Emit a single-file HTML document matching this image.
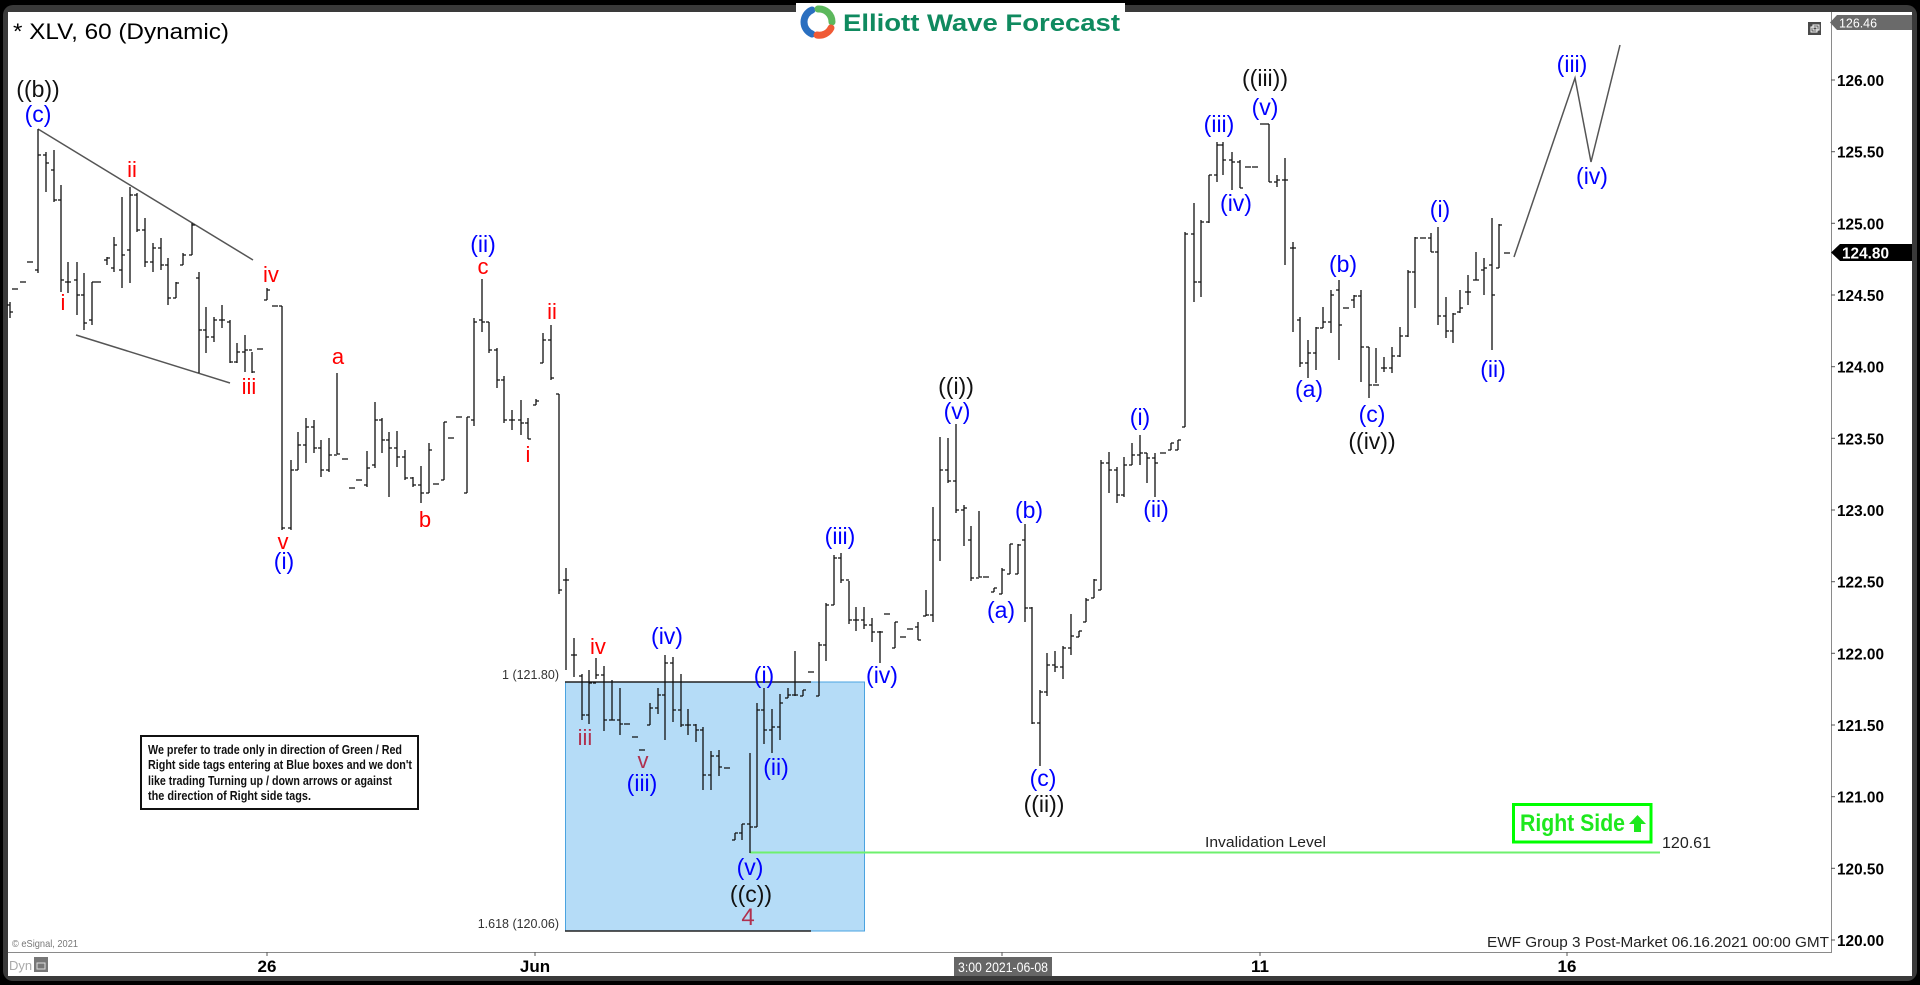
<!DOCTYPE html>
<html>
<head>
<meta charset="utf-8">
<style>
html,body{margin:0;padding:0;background:#000;}
svg{display:block;}
text{font-family:"Liberation Sans",Arial,sans-serif;}
</style>
</head>
<body>
<svg width="1920" height="985" viewBox="0 0 1920 985" xmlns="http://www.w3.org/2000/svg">
<!-- frame -->
<rect x="0" y="0" width="1920" height="985" fill="#000"/>
<rect x="3" y="5" width="1914" height="976" rx="10" fill="#3a3a3a"/>
<rect x="8" y="12" width="1904" height="964" fill="#fff"/>

<!-- logo -->
<rect x="796" y="3" width="329" height="38" fill="#fff"/>
<g fill="none" stroke-width="7" stroke-linecap="round">
<path d="M812 34 A13 13 0 0 1 812 10" stroke="#2a6fc0"/>
<path d="M818 9 A13 13 0 0 1 832 22" stroke="#5cb85c"/>
<path d="M831 28 A13 13 0 0 1 817 35" stroke="#f05a35"/>
</g>
<text x="843" y="31" font-size="24" font-weight="bold" fill="#0f8a5f" textLength="277" lengthAdjust="spacingAndGlyphs">Elliott Wave Forecast</text>

<!-- title -->
<text x="13" y="39" font-size="22" fill="#000" textLength="216" lengthAdjust="spacingAndGlyphs">* XLV, 60 (Dynamic)</text>

<!-- small icon top right -->
<rect x="1808" y="22" width="13" height="13" fill="#4a4a4a"/>
<rect x="1811" y="27" width="6" height="5" fill="none" stroke="#fff" stroke-width="1"/>
<rect x="1813" y="25" width="6" height="5" fill="none" stroke="#fff" stroke-width="1"/>

<!-- axes -->
<line x1="1831.5" y1="12" x2="1831.5" y2="953" stroke="#8a8a8a" stroke-width="1"/>
<line x1="8" y1="952.5" x2="1831.5" y2="952.5" stroke="#8a8a8a" stroke-width="1"/>

<!-- blue box -->
<rect x="565.5" y="682" width="299" height="249" fill="#b5dcf7" stroke="#4aa3e0" stroke-width="1"/>
<line x1="565" y1="682" x2="811" y2="682" stroke="#222" stroke-width="1.5"/>
<line x1="565" y1="931" x2="811" y2="931" stroke="#222" stroke-width="1.5"/>
<text x="559" y="679" font-size="12.5" fill="#333" text-anchor="end">1 (121.80)</text>
<text x="559" y="928" font-size="12.5" fill="#333" text-anchor="end">1.618 (120.06)</text>

<!-- trendlines -->
<g stroke="#555" stroke-width="1.5" fill="none">
<line x1="38" y1="129" x2="253" y2="260"/>
<line x1="76" y1="335" x2="230" y2="383"/>
<polyline points="1514,257 1575,78 1591,162 1620,45"/>
</g>

<!-- invalidation line -->
<line x1="750" y1="852.5" x2="1660" y2="852.5" stroke="#6ef06e" stroke-width="2"/>
<text x="1205" y="847" font-size="15" fill="#222" textLength="121" lengthAdjust="spacingAndGlyphs">Invalidation Level</text>
<text x="1662" y="848" font-size="16" fill="#222" textLength="49" lengthAdjust="spacingAndGlyphs">120.61</text>

<!-- Right Side tag -->
<rect x="1513.5" y="804.5" width="137.5" height="37.5" fill="#fff" stroke="#00ff00" stroke-width="3"/>
<text x="1520" y="831" font-size="24" font-weight="bold" fill="#1ee81e" textLength="105" lengthAdjust="spacingAndGlyphs">Right Side</text>
<path d="M1637.5 815 L1646 824 L1641 824 L1641 832 L1634 832 L1634 824 L1629 824 Z" fill="#1ee81e"/>

<!-- OHLC bars -->
<path fill="none" stroke="#111" stroke-width="1.3" d="
M10 302V318M7 305H10M10 312H13
M12 289H18M20 282H26M27 262H33
M38 129V273M35 270H38M38 155H41
M46 152V192M43 155H46M46 163H49
M54 150V202M51 170H54M54 200H57
M61 185V292M58 200H61M61 280H64
M68 262V293M65 282H68M68 282H71
M77 262V315M74 280H77M77 295H80
M84 273V330M81 295H84M84 323H87
M92 282V325M89 320H92M92 282H95
M95 282H101
M107 257V265M104 260H107M107 258H110
M114 237V272M111 268H114M114 245H117
M122 197V288M119 270H122M122 255H125
M130 187V283M127 250H130M130 195H133
M137 193V232M134 195H137M137 230H140
M145 218V267M142 230H145M145 262H148
M153 243V272M150 262H153M153 248H156
M161 238V270M158 248H161M161 265H164
M168 258V305M165 265H168M168 298H171
M176 282V298M173 298H176M176 283H179
M183 253V265M180 265H183M183 255H186
M192 223V255M189 255H192M192 225H195
M199 272V373M196 278H199M199 330H202
M206 307V353M203 330H206M206 337H209
M214 317V342M211 337H214M214 320H217
M222 305V328M219 320H222M222 320H225
M230 320V363M227 322H230M230 362H233
M237 343V363M234 362H237M237 352H240
M245 335V372M242 352H245M245 350H248
M252 352V373M249 350H252M252 372H255
M257 349H263
M267 288V300M264 300H267M267 290H270
M272 306H278
M282 306V530M279 306H282M282 528H285
M291 460V530M288 528H291M291 470H294
M298 432V470M295 470H298M298 445H301
M306 418V463M303 445H306M306 427H309
M314 420V453M311 427H314M314 448H317
M321 440V477M318 448H321M321 470H324
M329 438V472M326 470H329M329 455H332
M337 373V454M334 455H337M337 454H340
M342 459H348M349 488H355M356 480H362
M367 451V487M364 485H367M367 468H370
M375 402V468M372 465H375M375 420H378
M382 418V453M379 420H382M382 440H385
M389 432V497M386 440H389M389 448H392
M397 431V467M394 448H397M397 457H400
M405 450V480M402 457H405M405 478H408
M413 477V487M410 478H413M413 485H416
M421 466V503M418 485H421M421 493H424
M429 443V493M426 493H429M429 450H432
M433 484H439
M444 422V480M441 480H444M444 422H447
M448 438H454M456 417H462
M467 417V493M464 493H467M467 417H470
M474 318V426M471 420H474M474 322H477
M482 279V332M479 320H482M482 322H485
M489 322V353M486 322H489M489 350H492
M497 348V388M494 350H497M497 380H500
M504 376V423M501 380H504M504 420H507
M512 410V430M509 420H512M512 420H515
M521 400V435M518 420H521M521 423H524
M528 418V439M525 423H528M528 439H531
M536 399V405M533 405H536M536 401H539
M543 333V363M540 363H543M543 340H546
M551 325V380M548 340H551M551 378H554
M559 394V594M556 394H559M559 590H562
M566 568V670M563 580H566M566 580H569
M574 638V677M571 655H574M574 655H577
M582 674V720M579 676H582M582 715H585
M589 670V724M586 715H589M589 683H592
M596 658V679M593 683H596M596 675H599
M604 666V731M601 675H604M604 720H607
M612 680V720M609 720H612M612 720H615
M620 688V735M617 720H620M620 724H623
M624 724H630M632 737H638M639 750H645
M650 703V725M647 725H650M650 708H653
M658 688V714M655 708H658M658 695H661
M665 655V740M662 695H665M665 663H668
M673 657V722M670 663H673M673 710H676
M681 674V727M678 710H681M681 725H684
M688 709V735M685 725H688M688 725H691
M696 724V742M693 725H696M696 730H699
M703 727V790M700 730H703M703 775H706
M711 751V790M708 775H711M711 756H714
M719 750V776M716 756H719M719 767H722
M724 768H730
M735 833V840M732 840H735M735 833H738
M742 824V840M739 833H742M742 824H745
M750 753V853M747 824H750M750 827H753
M757 703V827M754 827H757M757 710H760
M764 688V744M761 710H764M764 730H767
M772 709V753M769 730H772M772 727H775
M780 694V740M777 727H780M780 703H783
M788 688V698M785 698H788M788 695H791
M795 651V696M792 695H795M795 695H798
M803 690V696M800 696H803M803 690H806
M808 672H814
M819 642V696M816 696H819M819 645H822
M826 603V661M823 645H826M826 605H829
M834 555V605M831 605H834M834 558H837
M841 553V583M838 558H841M841 580H844
M849 581V624M846 580H849M849 620H852
M856 607V631M853 620H856M856 620H859
M864 607V629M861 620H864M864 625H867
M872 618V642M869 625H872M872 632H875
M880 631V663M877 632H880M880 632H883
M884 614H890
M895 622V648M892 648H895M895 622H898
M900 637H906M907 629H913
M918 622V640M915 627H918M918 640H921
M926 590V616M923 616H926M926 615H929
M933 507V622M930 615H933M933 540H936
M940 437V561M937 540H940M940 470H943
M948 438V483M945 470H948M948 481H951
M956 424V513M953 481H956M956 510H959
M964 505V546M961 510H964M964 508H967
M971 526V581M968 540H971M971 578H974
M979 511V577M976 578H979M979 577H982
M983 577H989
M994 588V592M991 592H994M994 588H997
M1002 568V594M999 594H1002M1002 570H1005
M1010 544V574M1007 574H1010M1010 544H1013
M1018 544V574M1015 574H1018M1018 545H1021
M1025 524V622M1022 540H1025M1025 608H1028
M1032 607V724M1029 608H1032M1032 723H1035
M1040 690V766M1037 723H1040M1040 692H1043
M1047 653V696M1044 692H1047M1047 665H1050
M1055 651V672M1052 665H1055M1055 667H1058
M1063 646V679M1060 667H1063M1063 648H1066
M1071 614V655M1068 648H1071M1071 636H1074
M1079 631V637M1076 637H1079M1079 631H1082
M1086 598V622M1083 622H1086M1086 600H1089
M1094 579V598M1091 598H1094M1094 580H1097
M1101 460V590M1098 590H1101M1101 463H1104
M1109 452V493M1106 463H1109M1109 470H1112
M1117 467V503M1114 470H1117M1117 495H1120
M1124 457V497M1121 495H1124M1124 465H1127
M1132 443V465M1129 465H1132M1132 455H1135
M1140 435V465M1137 455H1140M1140 453H1143
M1147 453V483M1144 453H1147M1147 458H1150
M1155 453V497M1152 458H1155M1155 463H1158
M1160 453H1166
M1171 443V450M1168 450H1171M1171 443H1174
M1178 440V450M1175 450H1178M1178 440H1181
M1185 232V427M1182 427H1185M1185 234H1188
M1194 203V302M1191 234H1194M1194 282H1197
M1201 220V297M1198 282H1201M1201 222H1204
M1209 175V223M1206 222H1209M1209 175H1212
M1217 142V182M1214 175H1217M1217 145H1220
M1223 142V175M1220 145H1223M1223 160H1226
M1232 152V190M1229 160H1232M1232 162H1235
M1240 160V188M1237 162H1240M1240 188H1243
M1245 167H1251M1252 167H1258M1260 124H1266
M1269 124V182M1266 124H1269M1269 182H1272
M1277 175V187M1274 182H1277M1277 180H1280
M1285 158V265M1282 180H1285M1285 180H1288
M1293 242V332M1290 248H1293M1293 248H1296
M1300 317V367M1297 320H1300M1300 363H1303
M1308 340V378M1305 363H1308M1308 353H1311
M1316 327V370M1313 353H1316M1316 328H1319
M1323 307V328M1320 328H1323M1323 322H1326
M1331 290V333M1328 322H1331M1331 295H1334
M1339 280V360M1336 290H1339M1339 325H1342
M1343 308H1349
M1354 295V308M1351 300H1354M1354 296H1357
M1361 290V382M1358 296H1361M1361 347H1364
M1369 347V398M1366 347H1369M1369 385H1372
M1376 348V383M1373 385H1376M1376 385H1379
M1384 357V372M1381 368H1384M1384 368H1387
M1392 347V373M1389 368H1392M1392 356H1395
M1400 327V357M1397 356H1400M1400 336H1403
M1408 270V337M1405 336H1408M1408 272H1411
M1415 237V308M1412 272H1415M1415 238H1418
M1420 238H1426
M1431 233V252M1428 238H1431M1431 252H1434
M1438 227V325M1435 252H1438M1438 316H1441
M1446 297V338M1443 316H1446M1446 331H1449
M1453 313V343M1450 331H1453M1453 314H1456
M1460 290V313M1457 312H1460M1460 308H1463
M1468 275V305M1465 292H1468M1468 292H1471
M1476 252V280M1473 280H1476M1476 280H1479
M1484 258V295M1481 270H1484M1484 268H1487
M1492 218V350M1489 265H1492M1492 295H1495
M1499 224V268M1496 268H1499M1499 225H1502
M1504 253H1510
"/>

<!-- blue labels -->
<g font-size="23" fill="#0000ff" text-anchor="middle">
<text x="38" y="122">(c)</text>
<text x="284" y="569">(i)</text>
<text x="483" y="252">(ii)</text>
<text x="667" y="644">(iv)</text>
<text x="642" y="791">(iii)</text>
<text x="764" y="683">(i)</text>
<text x="776" y="775">(ii)</text>
<text x="750" y="875">(v)</text>
<text x="840" y="544">(iii)</text>
<text x="882" y="683">(iv)</text>
<text x="957" y="419">(v)</text>
<text x="1029" y="518">(b)</text>
<text x="1001" y="618">(a)</text>
<text x="1043" y="786">(c)</text>
<text x="1140" y="425">(i)</text>
<text x="1156" y="517">(ii)</text>
<text x="1219" y="132">(iii)</text>
<text x="1236" y="211">(iv)</text>
<text x="1265" y="115">(v)</text>
<text x="1343" y="272">(b)</text>
<text x="1309" y="397">(a)</text>
<text x="1372" y="422">(c)</text>
<text x="1440" y="217">(i)</text>
<text x="1493" y="377">(ii)</text>
<text x="1572" y="72">(iii)</text>
<text x="1592" y="184">(iv)</text>
</g>

<!-- black labels -->
<g font-size="23" fill="#111" text-anchor="middle">
<text x="38" y="97">((b))</text>
<text x="751" y="902">((c))</text>
<text x="956" y="394">((i))</text>
<text x="1044" y="812">((ii))</text>
<text x="1265" y="86">((iii))</text>
<text x="1372" y="449">((iv))</text>
</g>

<!-- red labels -->
<g font-size="22" fill="#ff0000" text-anchor="middle">
<text x="132" y="177">ii</text>
<text x="63" y="310">i</text>
<text x="271" y="282">iv</text>
<text x="249" y="394">iii</text>
<text x="283" y="549">v</text>
<text x="338" y="364">a</text>
<text x="425" y="527">b</text>
<text x="483" y="274">c</text>
<text x="552" y="319">ii</text>
<text x="528" y="462">i</text>
<text x="598" y="654">iv</text>
</g>
<g font-size="22" fill="#b0304e" text-anchor="middle">
<text x="585" y="745">iii</text>
<text x="643" y="768">v</text>
<text x="748" y="925" font-size="24">4</text>
</g>

<!-- note box -->
<rect x="141" y="736" width="277" height="73" fill="#fff" stroke="#111" stroke-width="2"/>
<g font-size="12.5" font-weight="bold" fill="#111">
<text x="148" y="754" textLength="254" lengthAdjust="spacingAndGlyphs">We prefer to trade only in direction of Green / Red</text>
<text x="148" y="769" textLength="264" lengthAdjust="spacingAndGlyphs">Right side tags entering at Blue boxes and we don't</text>
<text x="148" y="785" textLength="244" lengthAdjust="spacingAndGlyphs">like trading Turning up / down arrows or against</text>
<text x="148" y="800" textLength="163" lengthAdjust="spacingAndGlyphs">the direction of Right side tags.</text>
</g>

<!-- right axis labels -->
<g stroke="#555" stroke-width="1">
<line x1="1831" y1="80" x2="1835" y2="80"/>
<line x1="1831" y1="151.7" x2="1835" y2="151.7"/>
<line x1="1831" y1="223.3" x2="1835" y2="223.3"/>
<line x1="1831" y1="295" x2="1835" y2="295"/>
<line x1="1831" y1="366.7" x2="1835" y2="366.7"/>
<line x1="1831" y1="438.3" x2="1835" y2="438.3"/>
<line x1="1831" y1="510" x2="1835" y2="510"/>
<line x1="1831" y1="581.7" x2="1835" y2="581.7"/>
<line x1="1831" y1="653.3" x2="1835" y2="653.3"/>
<line x1="1831" y1="725" x2="1835" y2="725"/>
<line x1="1831" y1="796.7" x2="1835" y2="796.7"/>
<line x1="1831" y1="868.3" x2="1835" y2="868.3"/>
<line x1="1831" y1="940" x2="1835" y2="940"/>
</g>
<g font-size="16" font-weight="bold" fill="#000">
<text x="1837" y="86" textLength="47" lengthAdjust="spacingAndGlyphs">126.00</text>
<text x="1837" y="157.7" textLength="47" lengthAdjust="spacingAndGlyphs">125.50</text>
<text x="1837" y="229.3" textLength="47" lengthAdjust="spacingAndGlyphs">125.00</text>
<text x="1837" y="301" textLength="47" lengthAdjust="spacingAndGlyphs">124.50</text>
<text x="1837" y="372.7" textLength="47" lengthAdjust="spacingAndGlyphs">124.00</text>
<text x="1837" y="444.3" textLength="47" lengthAdjust="spacingAndGlyphs">123.50</text>
<text x="1837" y="516" textLength="47" lengthAdjust="spacingAndGlyphs">123.00</text>
<text x="1837" y="587.7" textLength="47" lengthAdjust="spacingAndGlyphs">122.50</text>
<text x="1837" y="659.3" textLength="47" lengthAdjust="spacingAndGlyphs">122.00</text>
<text x="1837" y="731" textLength="47" lengthAdjust="spacingAndGlyphs">121.50</text>
<text x="1837" y="802.7" textLength="47" lengthAdjust="spacingAndGlyphs">121.00</text>
<text x="1837" y="874.3" textLength="47" lengthAdjust="spacingAndGlyphs">120.50</text>
<text x="1837" y="946" textLength="47" lengthAdjust="spacingAndGlyphs">120.00</text>
</g>
<!-- top price tag -->
<path d="M1830 22.5 L1837 15 L1912 15 L1912 30 L1837 30 Z" fill="#6a6a6a"/>
<text x="1839" y="27.5" font-size="13" fill="#fff" textLength="38" lengthAdjust="spacingAndGlyphs">126.46</text>
<!-- last price tag -->
<path d="M1831 252.5 L1840 244 L1912 244 L1912 261 L1840 261 Z" fill="#000"/>
<text x="1842" y="258.5" font-size="16" font-weight="bold" fill="#fff" textLength="47" lengthAdjust="spacingAndGlyphs">124.80</text>

<!-- bottom axis -->
<g stroke="#555" stroke-width="1">
<line x1="267" y1="952" x2="267" y2="956"/>
<line x1="535" y1="952" x2="535" y2="956"/>
<line x1="1002" y1="952" x2="1002" y2="956"/>
<line x1="1260" y1="952" x2="1260" y2="956"/>
<line x1="1567" y1="952" x2="1567" y2="956"/>
</g>
<g font-size="17" font-weight="bold" fill="#000" text-anchor="middle">
<text x="267" y="972">26</text>
<text x="535" y="972">Jun</text>
<text x="1260" y="972">11</text>
<text x="1567" y="972">16</text>
</g>
<rect x="954" y="957" width="98" height="19" fill="#666"/>
<text x="958" y="972" font-size="14" fill="#fff" textLength="90" lengthAdjust="spacingAndGlyphs">3:00 2021-06-08</text>

<text x="1487" y="947" font-size="15" fill="#222" textLength="342" lengthAdjust="spacingAndGlyphs">EWF Group 3 Post-Market 06.16.2021 00:00 GMT</text>
<text x="12" y="947" font-size="10.5" fill="#777" textLength="66" lengthAdjust="spacingAndGlyphs">© eSignal, 2021</text>
<text x="9" y="970" font-size="13" fill="#aaa">Dyn</text>
<rect x="34" y="957" width="14" height="15" fill="#777"/>
<rect x="37" y="963" width="8" height="6" fill="none" stroke="#ddd" stroke-width="1"/>
</svg>
</body>
</html>
